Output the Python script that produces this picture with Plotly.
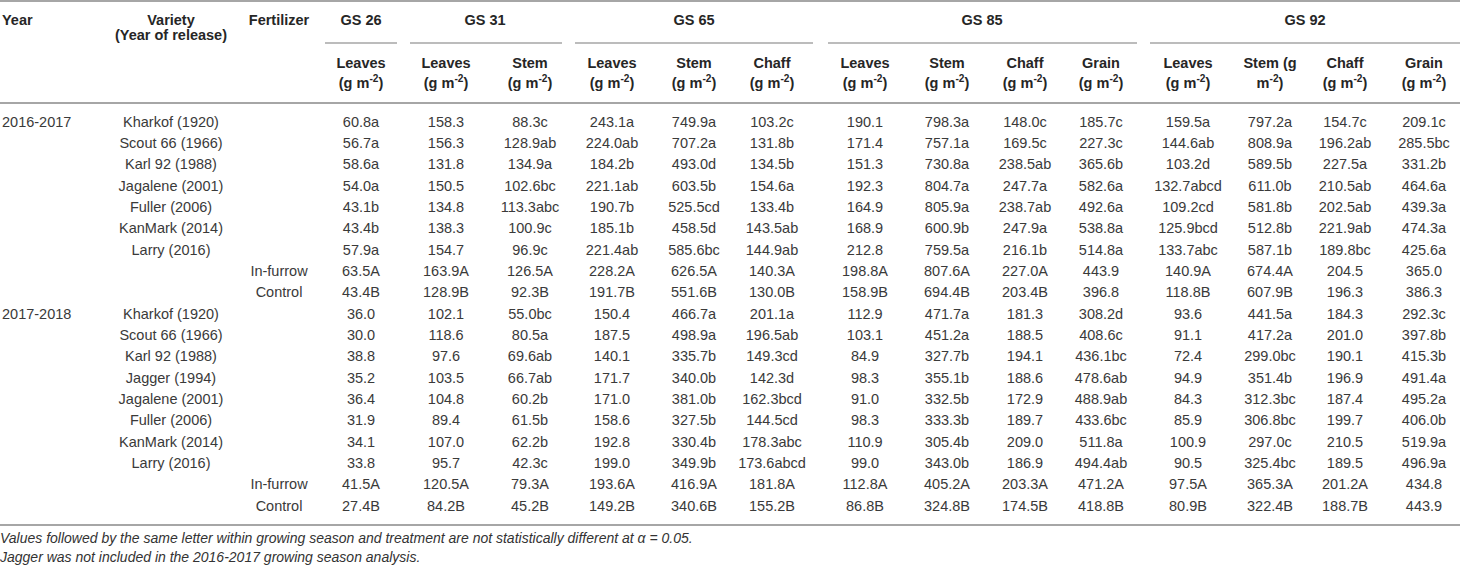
import plotly.graph_objects as go

# ---------------- data ----------------
years = ["2016-2017", "2017-2018"]
varieties_2016 = ["Kharkof (1920)", "Scout 66 (1966)", "Karl 92 (1988)", "Jagalene (2001)",
                  "Fuller (2006)", "KanMark (2014)", "Larry (2016)"]
varieties_2017 = ["Kharkof (1920)", "Scout 66 (1966)", "Karl 92 (1988)", "Jagger (1994)",
                  "Jagalene (2001)", "Fuller (2006)", "KanMark (2014)", "Larry (2016)"]
fertilizers = ["In-furrow", "Control"]

stages = ["GS 26", "GS 31", "GS 65", "GS 85", "GS 92"]
stage_parts = [["Leaves"], ["Leaves", "Stem"], ["Leaves", "Stem", "Chaff"],
               ["Leaves", "Stem", "Chaff", "Grain"], ["Leaves", "Stem", "Chaff", "Grain"]]

gs26_leaves = ["60.8a", "56.7a", "58.6a", "54.0a", "43.1b", "43.4b", "57.9a", "63.5A", "43.4B",
               "36.0", "30.0", "38.8", "35.2", "36.4", "31.9", "34.1", "33.8", "41.5A", "27.4B"]
gs31_leaves = ["158.3", "156.3", "131.8", "150.5", "134.8", "138.3", "154.7", "163.9A", "128.9B",
               "102.1", "118.6", "97.6", "103.5", "104.8", "89.4", "107.0", "95.7", "120.5A", "84.2B"]
gs31_stem = ["88.3c", "128.9ab", "134.9a", "102.6bc", "113.3abc", "100.9c", "96.9c", "126.5A", "92.3B",
             "55.0bc", "80.5a", "69.6ab", "66.7ab", "60.2b", "61.5b", "62.2b", "42.3c", "79.3A", "45.2B"]
gs65_leaves = ["243.1a", "224.0ab", "184.2b", "221.1ab", "190.7b", "185.1b", "221.4ab", "228.2A", "191.7B",
               "150.4", "187.5", "140.1", "171.7", "171.0", "158.6", "192.8", "199.0", "193.6A", "149.2B"]
gs65_stem = ["749.9a", "707.2a", "493.0d", "603.5b", "525.5cd", "458.5d", "585.6bc", "626.5A", "551.6B",
             "466.7a", "498.9a", "335.7b", "340.0b", "381.0b", "327.5b", "330.4b", "349.9b", "416.9A", "340.6B"]
gs65_chaff = ["103.2c", "131.8b", "134.5b", "154.6a", "133.4b", "143.5ab", "144.9ab", "140.3A", "130.0B",
              "201.1a", "196.5ab", "149.3cd", "142.3d", "162.3bcd", "144.5cd", "178.3abc", "173.6abcd", "181.8A", "155.2B"]
gs85_leaves = ["190.1", "171.4", "151.3", "192.3", "164.9", "168.9", "212.8", "198.8A", "158.9B",
               "112.9", "103.1", "84.9", "98.3", "91.0", "98.3", "110.9", "99.0", "112.8A", "86.8B"]
gs85_stem = ["798.3a", "757.1a", "730.8a", "804.7a", "805.9a", "600.9b", "759.5a", "807.6A", "694.4B",
             "471.7a", "451.2a", "327.7b", "355.1b", "332.5b", "333.3b", "305.4b", "343.0b", "405.2A", "324.8B"]
gs85_chaff = ["148.0c", "169.5c", "238.5ab", "247.7a", "238.7ab", "247.9a", "216.1b", "227.0A", "203.4B",
              "181.3", "188.5", "194.1", "188.6", "172.9", "189.7", "209.0", "186.9", "203.3A", "174.5B"]
gs85_grain = ["185.7c", "227.3c", "365.6b", "582.6a", "492.6a", "538.8a", "514.8a", "443.9", "396.8",
              "308.2d", "408.6c", "436.1bc", "478.6ab", "488.9ab", "433.6bc", "511.8a", "494.4ab", "471.2A", "418.8B"]
gs92_leaves = ["159.5a", "144.6ab", "103.2d", "132.7abcd", "109.2cd", "125.9bcd", "133.7abc", "140.9A", "118.8B",
               "93.6", "91.1", "72.4", "94.9", "84.3", "85.9", "100.9", "90.5", "97.5A", "80.9B"]
gs92_stem = ["797.2a", "808.9a", "589.5b", "611.0b", "581.8b", "512.8b", "587.1b", "674.4A", "607.9B",
             "441.5a", "417.2a", "299.0bc", "351.4b", "312.3bc", "306.8bc", "297.0c", "325.4bc", "365.3A", "322.4B"]
gs92_chaff = ["154.7c", "196.2ab", "227.5a", "210.5ab", "202.5ab", "221.9ab", "189.8bc", "204.5", "196.3",
              "184.3", "201.0", "190.1", "196.9", "187.4", "199.7", "210.5", "189.5", "201.2A", "188.7B"]
gs92_grain = ["209.1c", "285.5bc", "331.2b", "464.6a", "439.3a", "474.3a", "425.6a", "365.0", "386.3",
              "292.3c", "397.8b", "415.3b", "491.4a", "495.2a", "406.0b", "519.9a", "496.9a", "434.8", "443.9"]

footnotes = ["Values followed by the same letter within growing season and treatment are not statistically different at \u03b1 = 0.05.",
             "Jagger was not included in the 2016-2017 growing season analysis."]

value_columns = [gs26_leaves, gs31_leaves, gs31_stem, gs65_leaves, gs65_stem, gs65_chaff,
                 gs85_leaves, gs85_stem, gs85_chaff, gs85_grain,
                 gs92_leaves, gs92_stem, gs92_chaff, gs92_grain]

# ---------------- layout constants ----------------
W, H = 1460, 568
FONT = "Liberation Sans, Arial, Helvetica, sans-serif"
TXT = "#3a3a3a"
HDR = "#262626"
LINE = "#a6a6a6"
FS = 14.5

x_year = 2
x_variety = 171
x_fert = 279
value_x = [361, 446, 530, 612, 694, 772, 865, 947, 1025, 1101, 1188, 1270, 1345, 1424]
stage_label_x = [361, 485, 694, 982, 1305]
stage_line_span = [(325, 397), (410, 562), (575, 813), (828, 1137), (1150, 1460)]

y_top_line = 1
y_stage = 21
y_stage_line = 43
y_sub1 = 64
y_sub2 = 84
y_var2 = 36
y_head_line = 103
y_row0 = 123
row_h = 21.33
y_bottom_line = 525
y_fn = [539, 558]

# ---------------- build rows ----------------
row_year, row_variety, row_fert = [], [], []
for yr, vars_ in [(years[0], varieties_2016), (years[1], varieties_2017)]:
    for k, v in enumerate(vars_):
        row_year.append(yr if k == 0 else "")
        row_variety.append(v)
        row_fert.append("")
    for f in fertilizers:
        row_year.append("")
        row_variety.append("")
        row_fert.append(f)
n_rows = len(row_year)
row_y = [y_row0 + i * row_h for i in range(n_rows)]

fig = go.Figure()

def add_text(xs, ys, texts, pos="middle center", color=TXT, size=FS):
    keep = [(a, b, t) for a, b, t in zip(xs, ys, texts) if t]
    if not keep:
        return
    xs, ys, texts = zip(*keep)
    fig.add_trace(go.Scatter(
        x=list(xs), y=list(ys), text=list(texts), mode="text", textposition=pos,
        textfont=dict(family=FONT, size=size, color=color),
        hoverinfo="skip", showlegend=False, cliponaxis=False))

# body
add_text([x_year] * n_rows, row_y, row_year, pos="middle right")
add_text([x_variety] * n_rows, row_y, row_variety)
add_text([x_fert] * n_rows, row_y, row_fert)
for cx, col in zip(value_x, value_columns):
    add_text([cx] * n_rows, row_y, col)

# header
add_text([x_year], [y_stage], ["<b>Year</b>"], pos="middle right", color=HDR)
add_text([x_variety, x_variety], [y_stage, y_var2], ["<b>Variety</b>", "<b>(Year of release)</b>"], color=HDR)
add_text([x_fert], [y_stage], ["<b>Fertilizer</b>"], color=HDR)
add_text(stage_label_x, [y_stage] * len(stages), ["<b>%s</b>" % s for s in stages], color=HDR)

unit = "(g m<sup>-2</sup>)"
ci = 0
sub_x, sub_y, sub_t = [], [], []
for si, parts in enumerate(stage_parts):
    for p in parts:
        cx = value_x[ci]
        if si == 4 and p == "Stem":
            l1, l2 = "Stem (g", "m<sup>-2</sup>)"
        else:
            l1, l2 = p, unit
        sub_x += [cx, cx]
        sub_y += [y_sub1, y_sub2]
        sub_t += ["<b>%s</b>" % l1, "<b>%s</b>" % l2]
        ci += 1
add_text(sub_x, sub_y, sub_t, color=HDR)

# footnotes
add_text([0, 0], y_fn, ["<i>%s</i>" % f for f in footnotes], pos="middle right", color="#333333", size=14)

# rules
shapes = []
for yv, w in [(y_top_line, 2), (y_head_line, 2), (y_bottom_line, 2)]:
    shapes.append(dict(type="line", xref="x", yref="y", x0=0, x1=W, y0=yv, y1=yv,
                       line=dict(color=LINE, width=w)))
for a, b in stage_line_span:
    shapes.append(dict(type="line", xref="x", yref="y", x0=a, x1=b, y0=y_stage_line, y1=y_stage_line,
                       line=dict(color=LINE, width=1.5)))

fig.update_layout(
    width=W, height=H, margin=dict(l=0, r=0, t=0, b=0),
    paper_bgcolor="white", plot_bgcolor="white",
    xaxis=dict(range=[0, W], visible=False, fixedrange=True),
    yaxis=dict(range=[H, 0], visible=False, fixedrange=True),
    shapes=shapes, showlegend=False,
)

fig.write_html("out.html", config={"displayModeBar": False},
               post_script="document.body.style.margin='0';document.body.style.overflow='hidden';")
